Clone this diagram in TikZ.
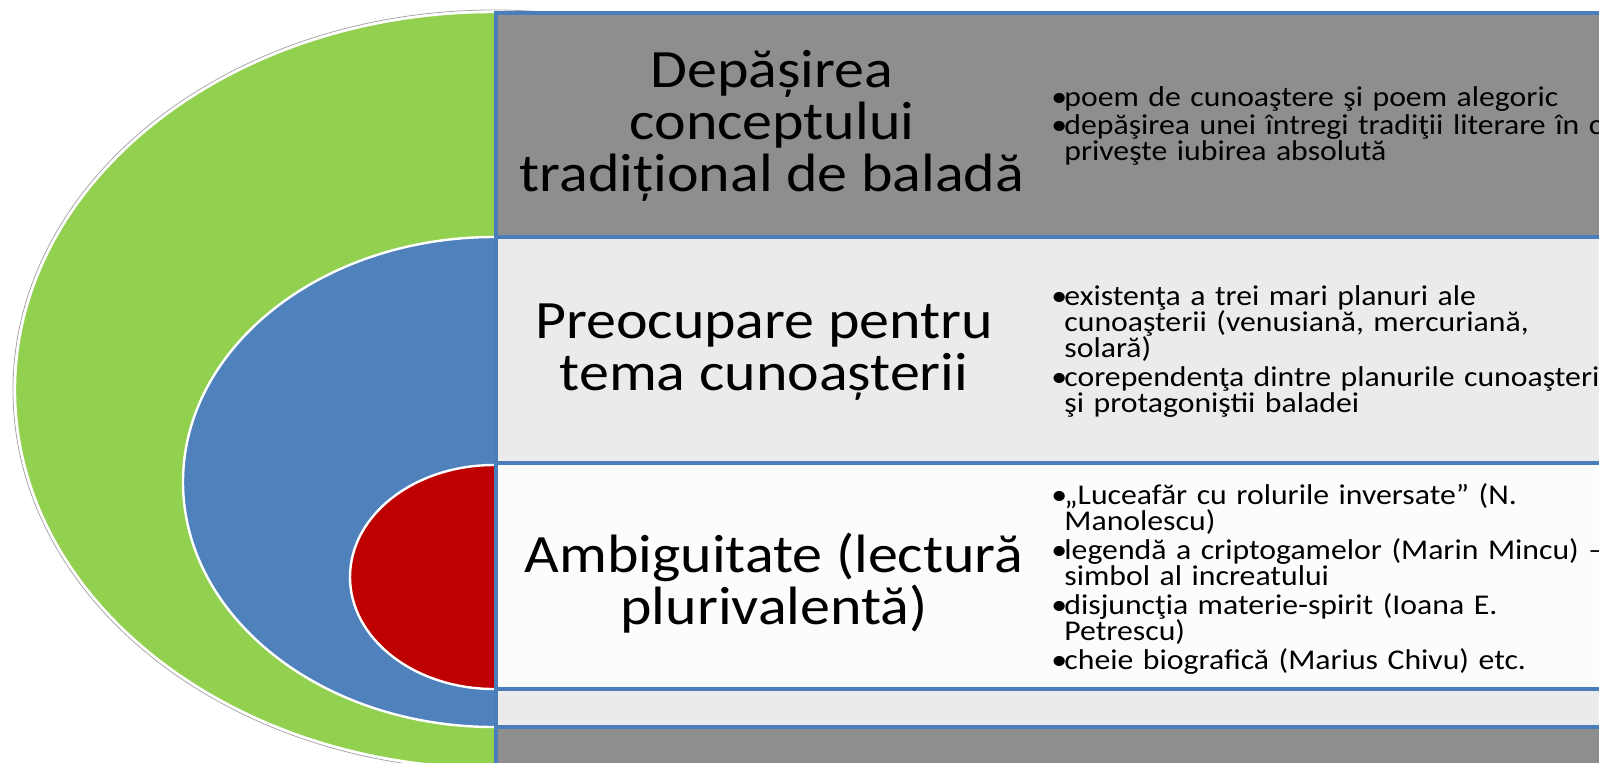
\documentclass[tikz,border=0pt]{standalone}
\usepackage{fontspec}
\setmainfont{Carlito}
\newfontfamily\widefont[FakeStretch=1.11]{Carlito}
\usetikzlibrary{positioning}

\definecolor{ringgreen}{HTML}{92D050}
\definecolor{ringblue}{HTML}{4F81BD}
\definecolor{ringred}{HTML}{BE0000}
\definecolor{bandline}{HTML}{4A7EBB}
\definecolor{banddark}{HTML}{8E8E8E}
\definecolor{bandlight}{HTML}{EBEBEB}
\definecolor{bandwhite}{HTML}{FCFCFC}

\newcommand\itm[1]{\hangindent=6.5pt\hangafter=1\noindent\makebox[6.5pt][l]{•}#1\par}

\begin{document}
\begin{tikzpicture}[
  x=0.5pt, y=-0.5pt,
  every node/.style={inner sep=0pt},
  heading/.style={align=center, font=\widefont\fontsize{27}{26}\selectfont},
  bullets/.style={anchor=west, align=left, text width=460pt, font=\widefont\fontsize{14.3}{13}\selectfont},
  band/.style={draw=bandline, line width=2pt},
  ring/.style={draw=white, line width=1.2pt}
]
\useasboundingbox (0,0) rectangle (1599,762);
\clip (0,0) rectangle (1599,762);
\fill[white] (0,0) rectangle (1599,762);

% nested half ellipses
\draw[gray!70, line width=0.4pt] (494,390) ellipse [x radius=240.5pt, y radius=190pt];
\draw[ring, fill=ringgreen] (494,390) ellipse [x radius=239.5pt, y radius=189pt];
\draw[ring, fill=ringblue] (494,482) ellipse [x radius=155.5pt, y radius=122.5pt];
\draw[ring, fill=ringred] (494,577) ellipse [x radius=72pt, y radius=56pt];

% bands
\draw[band, fill=banddark] (496,13) rectangle (1660,237);
\draw[band, fill=bandlight] (496,237) rectangle (1660,463);
\draw[band, fill=bandwhite] (496,463) rectangle (1660,689);
\draw[band, fill=bandlight] (496,689) rectangle (1660,727);
\draw[band, fill=banddark] (496,727) rectangle (1660,800);

% headings
\node[heading] (balada) at (772,126) {Depășirea\\conceptului\\tradițional de baladă};
\node[heading] (cunoastere) at (764,352) {Preocupare pentru\\tema cunoașterii};
\node[heading] (ambiguitate) at (774,583) {Ambiguitate (lectură\\plurivalentă)};

% bullet lists
\node[bullets] (lista1) at (1051,126) {\setlength\parskip{1pt}%
  \itm{poem de cunoaştere şi poem alegoric}
  \itm{depăşirea unei întregi tradiţii literare în ce\newline priveşte iubirea absolută}};
\node[bullets] (lista2) at (1051,352) {\setlength\parskip{1.5pt}%
  \itm{existenţa a trei mari planuri ale\newline cunoaşterii (venusiană, mercuriană,\newline solară)}
  \itm{corependenţa dintre planurile cunoaşterii\newline şi protagoniştii baladei}};
\node[bullets] (lista3) at (1051,579) {\setlength\parskip{1.5pt}%
  \itm{„Luceafăr cu rolurile inversate” (N.\newline Manolescu)}
  \itm{legendă a criptogamelor (Marin Mincu) –\newline simbol al increatului}
  \itm{disjuncţia materie-spirit (Ioana E.\newline Petrescu)}
  \itm{cheie biografică (Marius Chivu) etc.}};

\end{tikzpicture}
\end{document}
